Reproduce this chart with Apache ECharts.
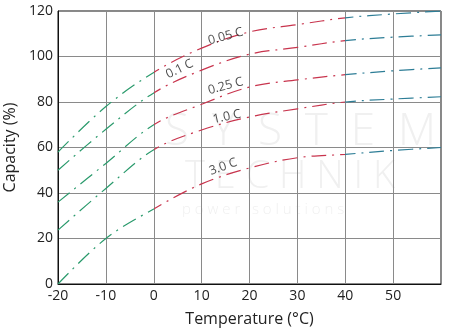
<!DOCTYPE html>
<html><head><meta charset="utf-8">
<script src="https://cdn.jsdelivr.net/npm/echarts@6/dist/echarts.min.js"></script>
<style>html,body{margin:0;padding:0;background:#fff}#c{width:453px;height:329px}</style>
</head><body><div id="c"></div>
<script>
// Data
var temps = [-20, -10, 0, 10, 20, 30, 40, 50, 60];
var c005 = [58, 78, 93, 103.7, 110.8, 114, 117, 118.7, 120];
var c01  = [50, 68, 84, 94, 101, 104, 107, 108.5, 109.5];
var c025 = [36, 53, 70, 79, 86.6, 89.7, 92, 93.7, 95];
var c10  = [23.7, 42, 59, 67.7, 73.4, 77, 80, 81.3, 82.3];
var c30  = [0, 20, 33, 44, 51, 55.5, 57, 58.7, 60];
var seriesNames = ['0.05 C', '0.1 C', '0.25 C', '1.0 C', '3.0 C'];
var seriesValues = [c005, c01, c025, c10, c30];
// curve annotations: [temperature, capacity, text, rotation]
var curveLabels = [
  [15, 108.8, '0.05 C', 15],
  [5.4, 94.5, '0.1 C', 26],
  [15, 87, '0.25 C', 15],
  [15.3, 73.5, '1.0 C', 12],
  [14.5, 51.5, '3.0 C', 20]
];
var xTicks = [-20, -10, 0, 10, 20, 30, 40, 50];

var FONT = '"Open Sans", Lato, sans-serif';
var chart = echarts.init(document.getElementById('c'));
var series = seriesValues.map(function (vals, i) {
  return {
    type: 'line', name: seriesNames[i],
    data: temps.map(function (t, j) { return [t, vals[j]]; }),
    smooth: 0.35, symbol: 'none',
    lineStyle: { width: 1.2, type: [15, 6, 2, 6] },
    z: 3
  };
});
series.push({
  type: 'scatter', symbolSize: 0, silent: true, z: 5,
  data: curveLabels.map(function (l) { return { value: [l[0], l[1]], name: l[2], label: { rotate: l[3] } }; }),
  label: { show: true, position: 'inside', formatter: '{b}', color: '#222', fontSize: 12.5, fontFamily: FONT }
});

chart.setOption({
  animation: false,
  grid: { left: 58, right: 12, top: 11, bottom: 45, show: true, borderColor: '#111', borderWidth: 1,
          containLabel: false, outerBoundsMode: 'none' },
  graphic: [
    { type: 'text', left: 165, top: 110, silent: true, z: 0,
      style: { text: 'S  Y  S  T  E  M', fill: '#f0f0f0', font: '300 44px ' + FONT } },
    { type: 'text', left: 185, top: 158, silent: true, z: 0,
      style: { text: 'T E C H N I K', fill: '#f0f0f0', font: '300 38px ' + FONT } },
    { type: 'text', left: 182, top: 202, silent: true, z: 0,
      style: { text: 'p o w e r   s o l u t i o n s', fill: '#f0f0f0', font: '300 15px ' + FONT } }
  ],
  visualMap: {
    type: 'piecewise', show: false, dimension: 0, seriesIndex: [0, 1, 2, 3, 4],
    pieces: [
      { lt: 0, color: '#2a9a6c' },
      { gte: 0, lt: 40, color: '#c8344d' },
      { gte: 40, color: '#2d7d96' }
    ]
  },
  xAxis: {
    type: 'value', min: -20, max: 60, interval: 10,
    name: 'Temperature (°C)', nameLocation: 'middle', nameGap: 27,
    nameTextStyle: { fontSize: 16, color: '#222', fontFamily: FONT },
    axisLine: { show: true, onZero: false, lineStyle: { color: '#111', width: 1 } },
    axisTick: { show: false },
    axisLabel: { color: '#222', fontSize: 14, fontFamily: FONT, margin: 5,
      formatter: function (v) { return xTicks.indexOf(v) >= 0 ? String(v) : ''; } },
    splitLine: { show: true, lineStyle: { color: '#8a8a8a', width: 1 } }
  },
  yAxis: {
    type: 'value', min: 0, max: 120, interval: 20,
    name: 'Capacity (%)', nameLocation: 'middle', nameGap: 31,
    nameTextStyle: { fontSize: 16, color: '#222', fontFamily: FONT },
    axisLine: { show: true, onZero: false, lineStyle: { color: '#111', width: 1 } },
    axisTick: { show: false },
    axisLabel: { color: '#222', fontSize: 14, fontFamily: FONT, margin: 5 },
    splitLine: { show: true, lineStyle: { color: '#8a8a8a', width: 1 } }
  },
  series: series
});
</script></body></html>
